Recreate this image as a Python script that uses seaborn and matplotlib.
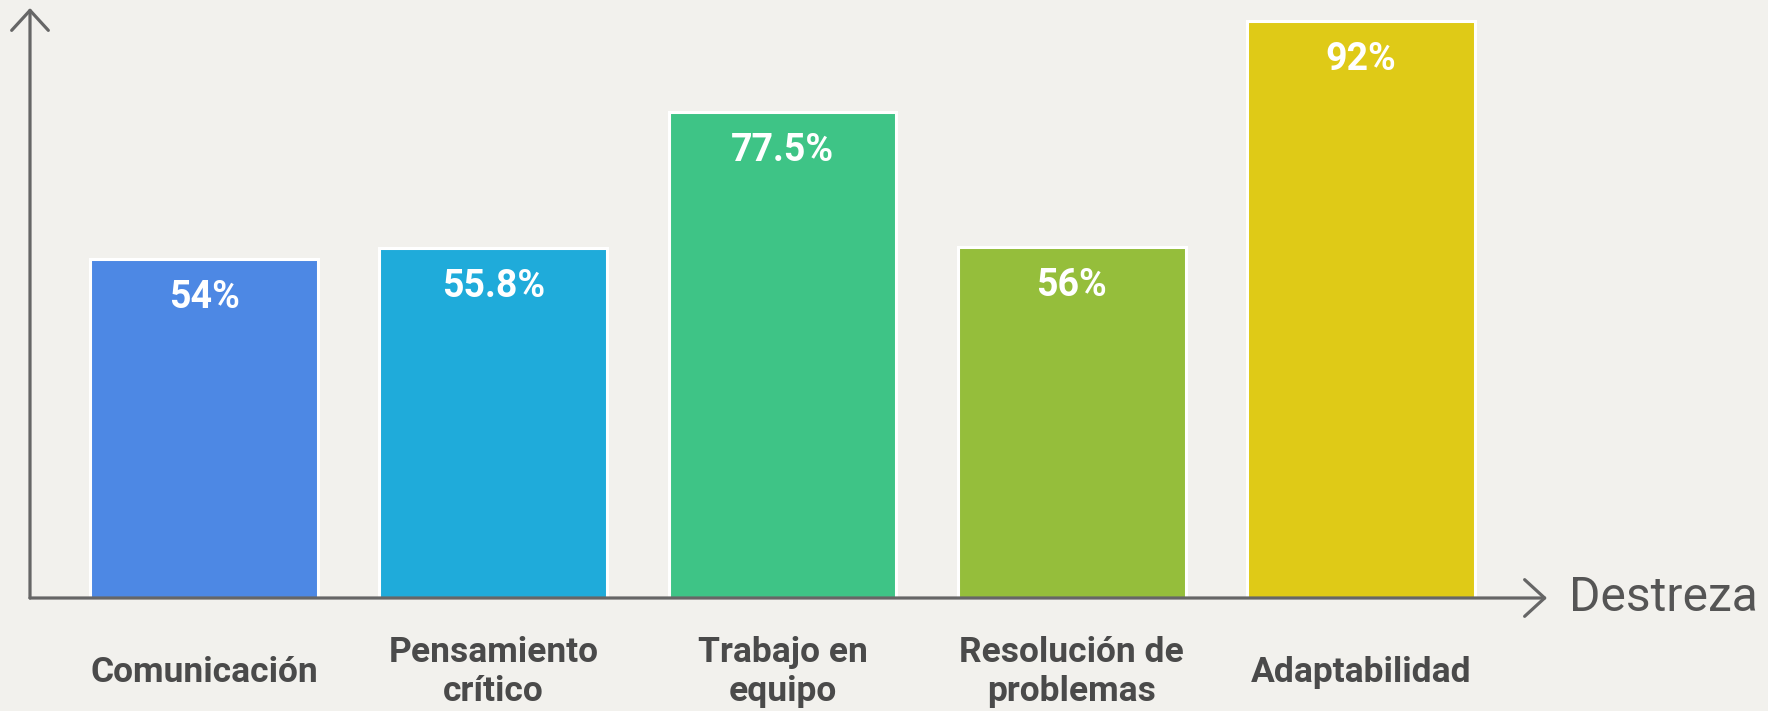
import matplotlib
matplotlib.use("Agg")
import matplotlib.pyplot as plt
import seaborn as sns
import pandas as pd

categories = ["Comunicación", "Pensamiento\ncrítico", "Trabajo en\nequipo", "Resolución de\nproblemas", "Adaptabilidad"]
values = [54, 55.8, 77.5, 56, 92]
value_labels = ["54%", "55.8%", "77.5%", "56%", "92%"]
colors = ["#4D88E4", "#1FABDA", "#3EC486", "#95BE3B", "#DFCA17"]
axis_title = "Destreza"

sns.set_theme(style="white")
plt.rcParams['font.family'] = ['Roboto', 'DejaVu Sans']

BG = "#F2F1ED"
W, H = 1768, 711
fig = plt.figure(figsize=(W / 100, H / 100), dpi=100, facecolor=BG)
x0, x1 = 30, 1547
y0, y1 = 598, 8
ax = fig.add_axes([x0 / W, (H - y0) / H, (x1 - x0) / W, (y0 - y1) / H])
ax.set_facecolor(BG)

df = pd.DataFrame({"cat": categories, "val": values})
sns.barplot(data=df, x="cat", y="val", hue="cat", palette=colors, dodge=False,
            width=0.788, legend=False, ax=ax, edgecolor="white", linewidth=2.2,
            saturation=1)

ax.set_xlim(-0.6016, 4.643)
ax.set_ylim(0, 94.1)
for s in ax.spines.values():
    s.set_visible(False)
ax.set_xlabel("")
ax.set_ylabel("")
ax.set_yticks([])
ax.set_xticks([])

for i, (v, lab) in enumerate(zip(values, value_labels)):
    ax.annotate(lab, (i, v), xytext=(0, -27.5), textcoords="offset points",
                ha="center", va="center", color="white", fontsize=27,
                fontweight="bold")

for i, c in enumerate(categories):
    ax.annotate(c, (i, 0), xycoords=("data", "axes fraction"), xytext=(0, -53.5),
                textcoords="offset points", ha="center", va="center",
                color="#4A4A4A", fontsize=25.5, fontweight="bold", linespacing=1.22,
                annotation_clip=False)

axcol = "#666666"
arrow = dict(arrowstyle="->,head_length=1.2,head_width=1.1", color=axcol, lw=2.3,
             shrinkA=0, shrinkB=0)
ax.annotate("", xy=(0, 1), xytext=(0, 0), xycoords="axes fraction", arrowprops=arrow,
            annotation_clip=False)
ax.annotate("", xy=(1, 0), xytext=(0, 0), xycoords="axes fraction", arrowprops=arrow,
            annotation_clip=False)
ax.annotate(axis_title, (1, 0), xycoords="axes fraction", xytext=(16, 0),
            textcoords="offset points", ha="left", va="center", color="#555555",
            fontsize=34.5, annotation_clip=False)

fig.savefig("out.png", dpi=100, facecolor=BG)
